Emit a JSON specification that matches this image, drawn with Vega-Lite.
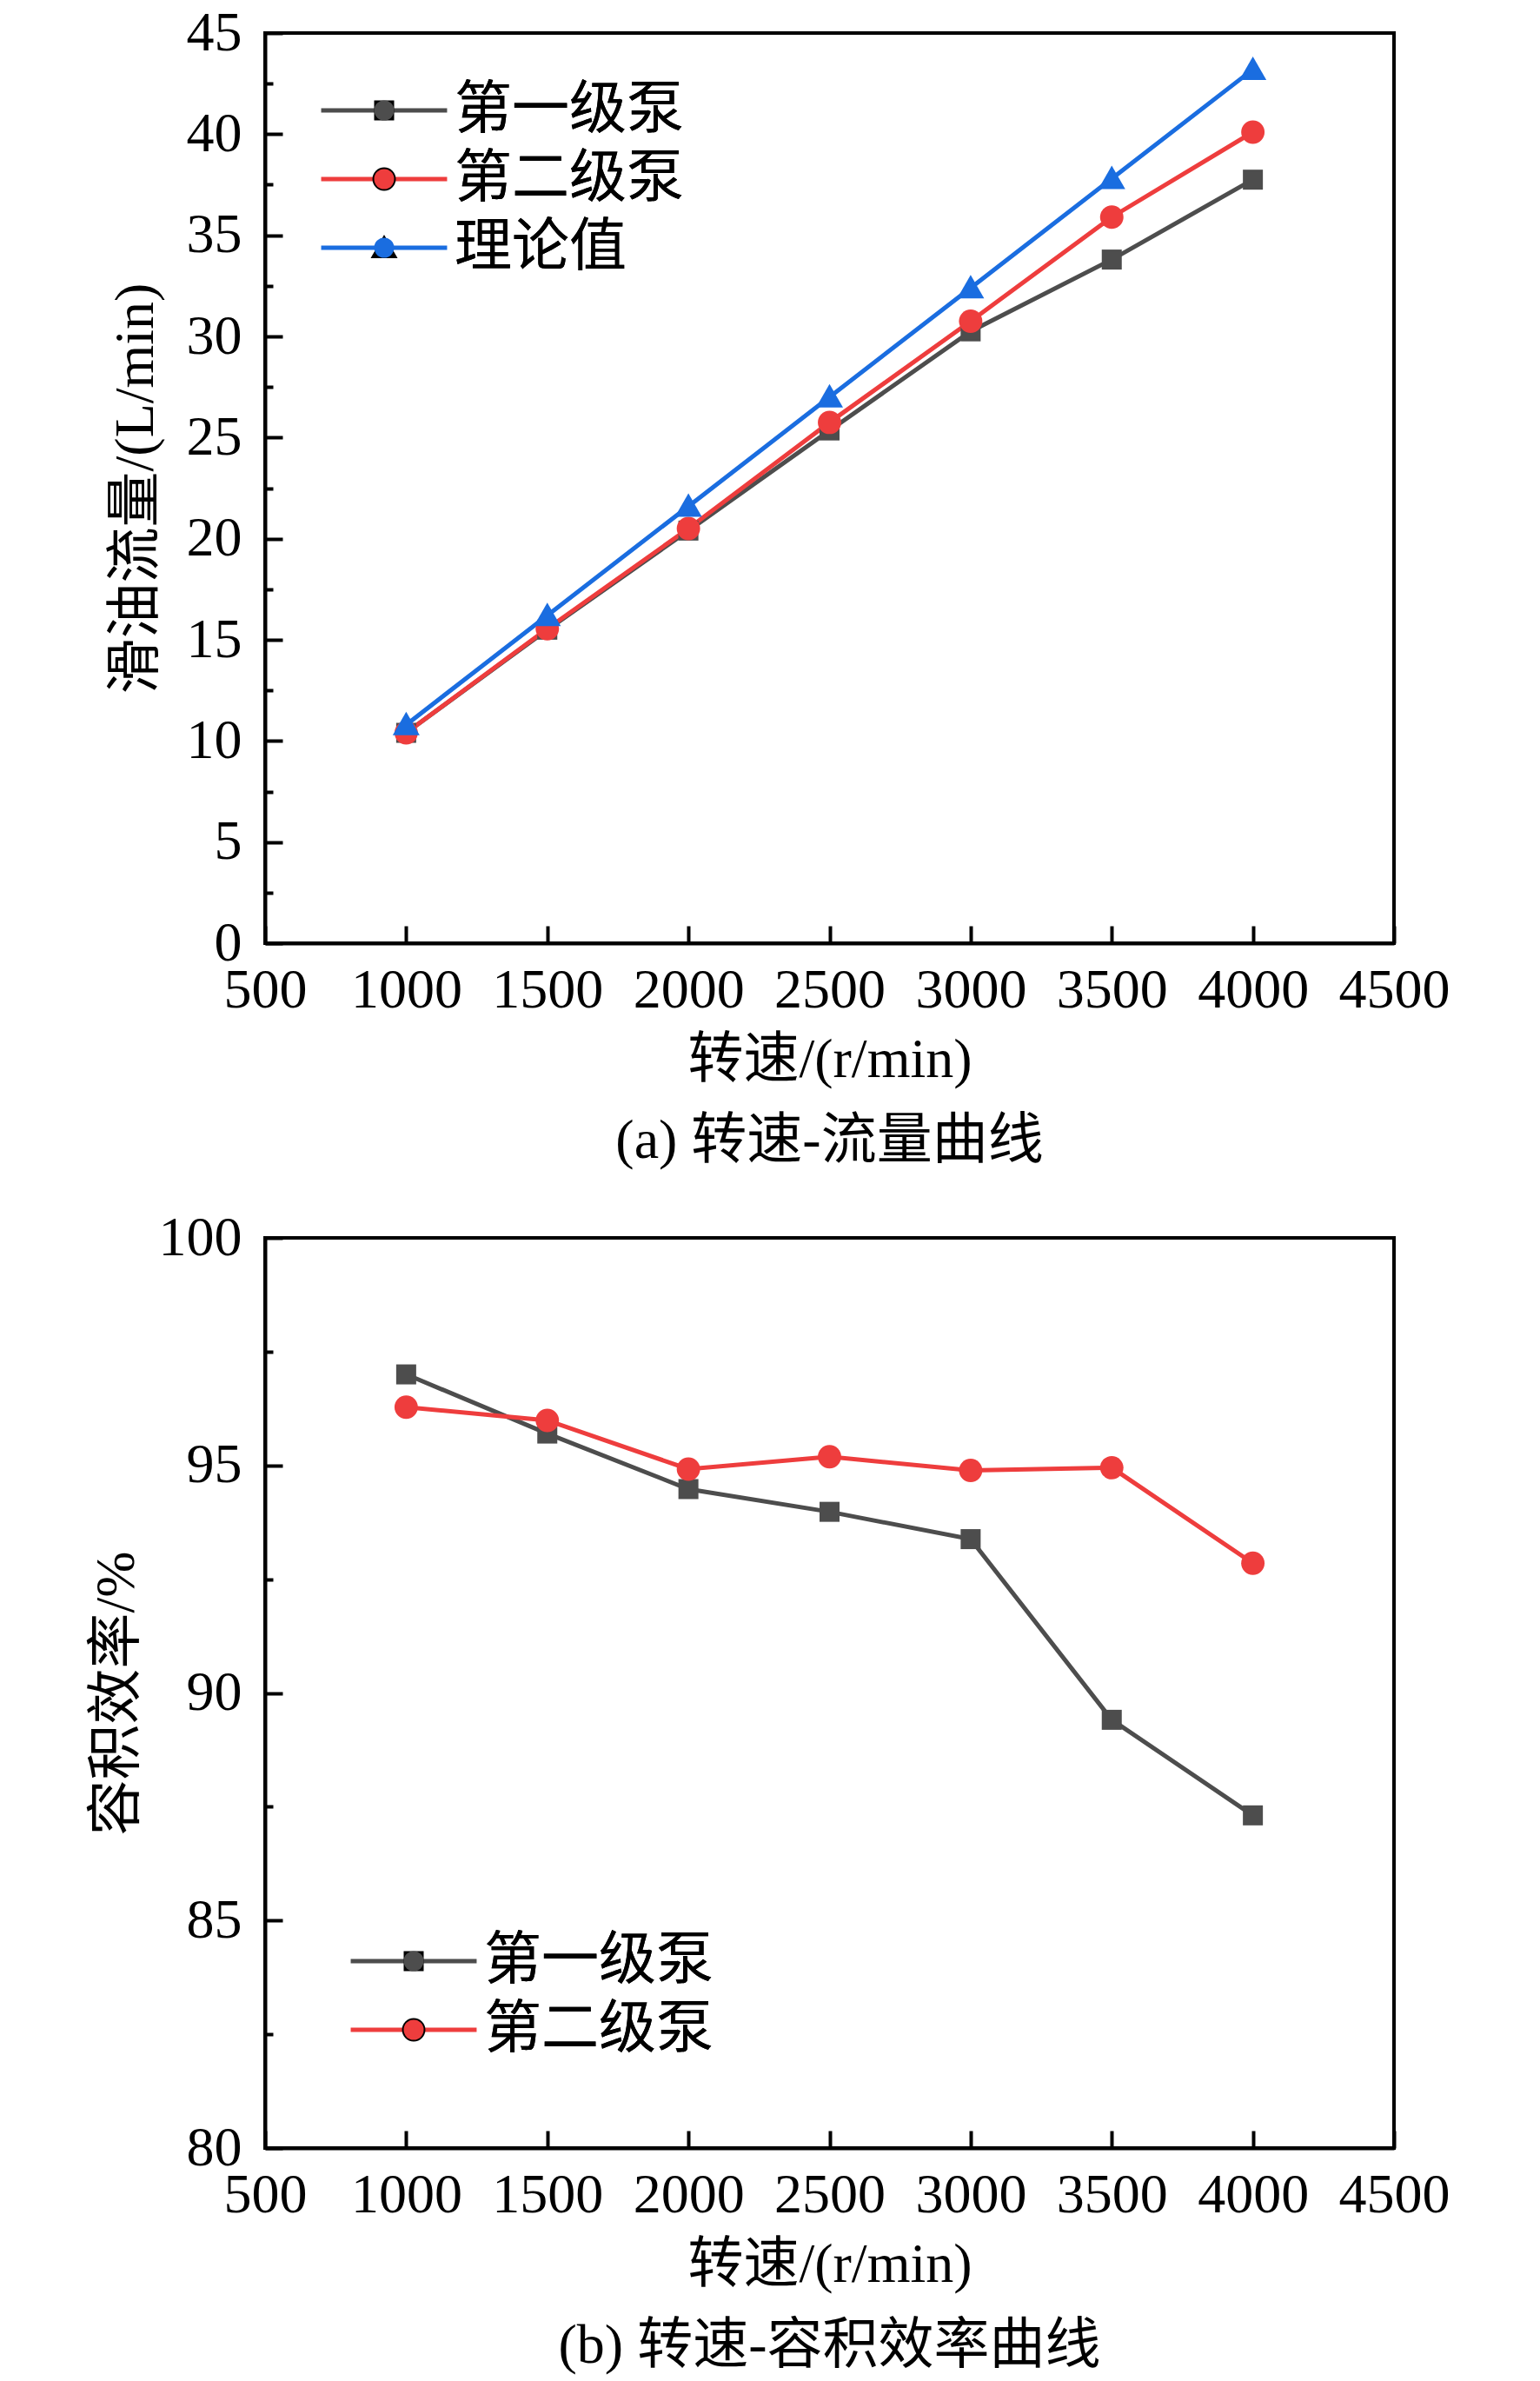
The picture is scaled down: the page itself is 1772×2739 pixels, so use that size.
{
  "$schema": "https://vega.github.io/schema/vega-lite/v6.json",
  "background": "white",
  "padding": {"left": 100, "top": 4, "right": 0, "bottom": 0},
  "datasets": {
    "flow": [
      {"series": "第一级泵", "rpm": 1000, "value": 10.4},
      {"series": "第一级泵", "rpm": 1500, "value": 15.5},
      {"series": "第一级泵", "rpm": 2000, "value": 20.4},
      {"series": "第一级泵", "rpm": 2500, "value": 25.35},
      {"series": "第一级泵", "rpm": 3000, "value": 30.25},
      {"series": "第一级泵", "rpm": 3500, "value": 33.8},
      {"series": "第一级泵", "rpm": 4000, "value": 37.75},
      {"series": "第二级泵", "rpm": 1000, "value": 10.4},
      {"series": "第二级泵", "rpm": 1500, "value": 15.55},
      {"series": "第二级泵", "rpm": 2000, "value": 20.5},
      {"series": "第二级泵", "rpm": 2500, "value": 25.75},
      {"series": "第二级泵", "rpm": 3000, "value": 30.75},
      {"series": "第二级泵", "rpm": 3500, "value": 35.9},
      {"series": "第二级泵", "rpm": 4000, "value": 40.1},
      {"series": "理论值", "rpm": 1000, "value": 10.8},
      {"series": "理论值", "rpm": 1500, "value": 16.2},
      {"series": "理论值", "rpm": 2000, "value": 21.6},
      {"series": "理论值", "rpm": 2500, "value": 27.0},
      {"series": "理论值", "rpm": 3000, "value": 32.4},
      {"series": "理论值", "rpm": 3500, "value": 37.8},
      {"series": "理论值", "rpm": 4000, "value": 43.2}
    ],
    "eff": [
      {"series": "第一级泵", "rpm": 1000, "value": 97.0},
      {"series": "第一级泵", "rpm": 1500, "value": 95.7},
      {"series": "第一级泵", "rpm": 2000, "value": 94.48},
      {"series": "第一级泵", "rpm": 2500, "value": 93.98},
      {"series": "第一级泵", "rpm": 3000, "value": 93.38},
      {"series": "第一级泵", "rpm": 3500, "value": 89.41},
      {"series": "第一级泵", "rpm": 4000, "value": 87.31},
      {"series": "第二级泵", "rpm": 1000, "value": 96.28},
      {"series": "第二级泵", "rpm": 1500, "value": 95.99},
      {"series": "第二级泵", "rpm": 2000, "value": 94.92},
      {"series": "第二级泵", "rpm": 2500, "value": 95.19},
      {"series": "第二级泵", "rpm": 3000, "value": 94.89},
      {"series": "第二级泵", "rpm": 3500, "value": 94.95},
      {"series": "第二级泵", "rpm": 4000, "value": 92.85}
    ]
  },
  "config": {
    "font": "Liberation Serif, Noto Sans CJK SC",
    "view": {"stroke": "black", "strokeWidth": 4},
    "concat": {"spacing": 43},
    "point": {"size": 529, "filled": true, "opacity": 1, "strokeWidth": 0},
    "axis": {
      "grid": false,
      "domainColor": "black",
      "domainWidth": 4,
      "tickColor": "black",
      "tickWidth": 4,
      "labelFont": "Liberation Serif, Noto Sans CJK SC",
      "labelFontSize": 64,
      "labelColor": "black",
      "labelOverlap": false,
      "labelFlush": false,
      "titleFont": "Liberation Serif, Noto Sans CJK SC",
      "titleFontSize": 64,
      "titleFontWeight": "normal",
      "titleColor": "black"
    },
    "legend": {
      "orient": "none",
      "padding": 0,
      "rowPadding": 13,
      "labelOffset": 48,
      "labelFont": "Liberation Serif, Noto Sans CJK SC",
      "labelFontSize": 66,
      "labelColor": "black",
      "labelLimit": 0,
      "symbolSize": 529
    },
    "title": {
      "font": "Liberation Serif, Noto Sans CJK SC",
      "fontSize": 64,
      "fontWeight": "normal",
      "color": "black"
    }
  },
  "resolve": {
    "scale": {"color": "independent", "fill": "independent", "shape": "independent"},
    "legend": {"color": "independent", "fill": "independent", "shape": "independent"}
  },
  "vconcat": [
    {
      "width": 1299,
      "height": 1047,
      "data": {"name": "flow"},
      "title": {"text": "(a) 转速-流量曲线", "orient": "bottom", "offset": 30},
      "layer": [
        {
          "mark": {"type": "line", "strokeWidth": 5},
          "encoding": {
            "x": {
              "field": "rpm", "type": "quantitative",
              "scale": {"domain": [500, 4500], "nice": false, "zero": false},
              "axis": {
                "title": "转速/(r/min)",
                "format": "d",
                "values": [500, 1000, 1500, 2000, 2500, 3000, 3500, 4000, 4500],
                "tickSize": -20,
                "labelPadding": 42,
                "titlePadding": 16
              }
            },
            "y": {
              "field": "value", "type": "quantitative",
              "scale": {"domain": [0, 45], "nice": false},
              "axis": {
                "title": "滑油流量/(L/min)",
                "values": [0, 2.5, 5, 7.5, 10, 12.5, 15, 17.5, 20, 22.5, 25, 27.5, 30, 32.5, 35, 37.5, 40, 42.5, 45],
                "labelExpr": "datum.value % 5 === 0 ? datum.label : ''",
                "tickSize": {"condition": {"test": "datum.value % 5 !== 0", "value": -9}, "value": -20},
                "labelPadding": 47,
                "titlePadding": 26
              }
            },
            "color": {
              "field": "series", "type": "nominal",
              "scale": {"domain": ["第一级泵", "第二级泵", "理论值"], "range": ["#4d4d4d", "#ee3d3d", "#1a6de0"]},
              "legend": {
                "title": null,
                "legendX": 104,
                "legendY": 56,
                "symbolType": "M-6.3,0H6.3",
                "symbolStrokeWidth": 5,
                "labelOpacity": 0
              }
            }
          }
        },
        {
          "mark": {"type": "point", "stroke": "transparent"},
          "encoding": {
            "x": {"field": "rpm", "type": "quantitative"},
            "y": {"field": "value", "type": "quantitative"},
            "fill": {
              "field": "series", "type": "nominal",
              "sort": ["第一级泵", "第二级泵", "理论值"],
              "scale": {"range": ["#4d4d4d", "#ee3d3d", "#1a6de0"]},
              "legend": {"title": null, "legendX": 104, "legendY": 56, "symbolStrokeWidth": 0, "symbolStrokeColor": "transparent"}
            },
            "shape": {
              "field": "series", "type": "nominal",
              "sort": ["第一级泵", "第二级泵", "理论值"],
              "scale": {
                "range": [
                  "M-1,-1H1V1H-1Z",
                  "M1.17,0C1.17,0.646,0.646,1.17,0,1.17C-0.646,1.17,-1.17,0.646,-1.17,0C-1.17,-0.646,-0.646,-1.17,0,-1.17C0.646,-1.17,1.17,-0.646,1.17,0Z",
                  "M0,-1.3L1.35,1.05H-1.35Z"
                ]
              },
              "legend": {"title": null, "legendX": 104, "legendY": 56, "symbolStrokeWidth": 0, "symbolStrokeColor": "transparent"}
            }
          }
        }
      ]
    },
    {
      "width": 1299,
      "height": 1047,
      "data": {"name": "eff"},
      "title": {"text": "(b) 转速-容积效率曲线", "orient": "bottom", "offset": 30},
      "layer": [
        {
          "mark": {"type": "line", "strokeWidth": 5},
          "encoding": {
            "x": {
              "field": "rpm", "type": "quantitative",
              "scale": {"domain": [500, 4500], "nice": false, "zero": false},
              "axis": {
                "title": "转速/(r/min)",
                "format": "d",
                "values": [500, 1000, 1500, 2000, 2500, 3000, 3500, 4000, 4500],
                "tickSize": -20,
                "labelPadding": 42,
                "titlePadding": 16
              }
            },
            "y": {
              "field": "value", "type": "quantitative",
              "scale": {"domain": [80, 100], "nice": false, "zero": false},
              "axis": {
                "title": "容积效率/%",
                "values": [80, 82.5, 85, 87.5, 90, 92.5, 95, 97.5, 100],
                "labelExpr": "datum.value % 5 === 0 ? datum.label : ''",
                "tickSize": {"condition": {"test": "datum.value % 5 !== 0", "value": -9}, "value": -20},
                "labelPadding": 47,
                "titlePadding": 16
              }
            },
            "color": {
              "field": "series", "type": "nominal",
              "scale": {"domain": ["第一级泵", "第二级泵"], "range": ["#4d4d4d", "#ee3d3d"]},
              "legend": {
                "title": null,
                "legendX": 138,
                "legendY": 799,
                "symbolType": "M-6.3,0H6.3",
                "symbolStrokeWidth": 5,
                "labelOpacity": 0
              }
            }
          }
        },
        {
          "mark": {"type": "point", "stroke": "transparent"},
          "encoding": {
            "x": {"field": "rpm", "type": "quantitative"},
            "y": {"field": "value", "type": "quantitative"},
            "fill": {
              "field": "series", "type": "nominal",
              "sort": ["第一级泵", "第二级泵"],
              "scale": {"range": ["#4d4d4d", "#ee3d3d"]},
              "legend": {"title": null, "legendX": 138, "legendY": 799, "symbolStrokeWidth": 0, "symbolStrokeColor": "transparent"}
            },
            "shape": {
              "field": "series", "type": "nominal",
              "sort": ["第一级泵", "第二级泵"],
              "scale": {
                "range": [
                  "M-1,-1H1V1H-1Z",
                  "M1.17,0C1.17,0.646,0.646,1.17,0,1.17C-0.646,1.17,-1.17,0.646,-1.17,0C-1.17,-0.646,-0.646,-1.17,0,-1.17C0.646,-1.17,1.17,-0.646,1.17,0Z"
                ]
              },
              "legend": {"title": null, "legendX": 138, "legendY": 799, "symbolStrokeWidth": 0, "symbolStrokeColor": "transparent"}
            }
          }
        }
      ]
    }
  ]
}
